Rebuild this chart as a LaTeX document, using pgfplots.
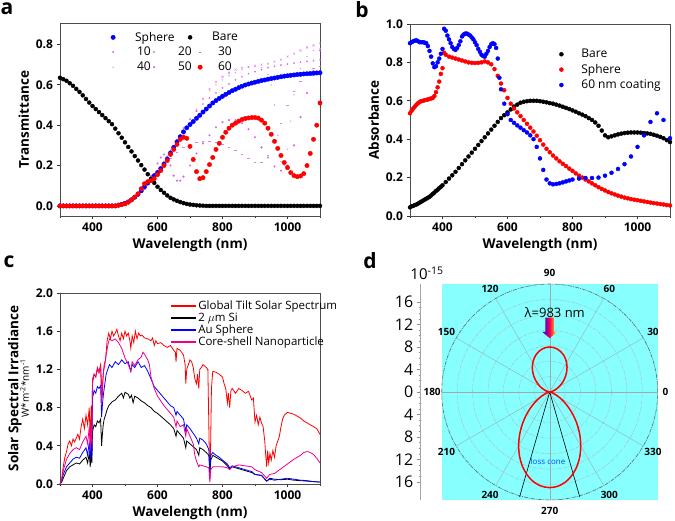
\documentclass[border=0pt]{standalone}
\usepackage{fontspec}
\setmainfont{Open Sans}
\usepackage{pgfplots}
\pgfplotsset{compat=1.18}
\definecolor{cyanbg}{RGB}{135,255,255}
\definecolor{magl}{RGB}{215,95,235}
\definecolor{gridg}{RGB}{110,140,140}
\newcommand{\fs}[1]{\fontsize{#1}{#1}\selectfont}
\pgfplotsset{
 panel/.style={
  scale only axis, width=260pt, xmin=300, xmax=1100,
  xtick={400,600,800,1000}, minor xtick={300,500,700,900,1100},
  tick align=outside, tick pos=left,
  major tick length=3.5pt, minor tick length=2pt,
  axis line style={draw=black!70, line width=0.9pt},
  every tick/.style={black!80, line width=0.7pt},
  tick label style={font=\fs{12}\bfseries},
  label style={font=\fs{13.5}\bfseries},
  xlabel={Wavelength (nm)},
  /pgf/number format/assume math mode=true,
  /pgf/number format/1000 sep={},
  xticklabel={\pgfmathprintnumber{\tick}},
  yticklabel={\pgfmathprintnumber{\tick}},
  yticklabel style={/pgf/number format/fixed,/pgf/number format/fixed zerofill,/pgf/number format/precision=1},
  scaled ticks=false,
 },
 lnleg/.style={legend image code/.code={\fill[#1] (0pt,-0.6pt) rectangle (24pt,0.6pt);}},
 mkleg/.style={legend image code/.code={\path[draw=none,fill=none] (-3pt,0pt) -- (13pt,0pt); \draw[##1] plot coordinates {(0pt,0pt)};}},
}
\begin{document}
\begin{tikzpicture}[x=1pt,y=1pt]
\useasboundingbox (0,0) rectangle (675,521);
% ---------------- panel a (legend row 1 only) ----------------
\begin{axis}[at={(60pt,305pt)}, anchor=south west, scale only axis, width=260pt, height=192.7pt,
  xmin=0, xmax=1, ymin=0, ymax=1, hide axis,
  legend columns=2,
  legend style={draw=none, fill=none, inner sep=0pt, at={(axis description cs:0.192,0.966)}, anchor=north west, font=\fs{12}},
  legend cell align=left]
\addlegendimage{only marks, mark=*, mark size=2.2pt, blue, mkleg}\addlegendentry{\makebox[57pt][l]{\hspace{7pt}Sphere}}
\addlegendimage{only marks, mark=*, mark size=2pt, black, mkleg}\addlegendentry{\hspace{7pt}Bare}
\end{axis}
% ---------------- panel a ----------------
\begin{axis}[panel, at={(60pt,305pt)}, anchor=south west, height=192.7pt,
  ymin=-0.05, ymax=0.905, ytick={0,0.2,0.4,0.6,0.8}, ylabel={Transmittance},
  legend columns=3,
  legend style={draw=none, fill=none, inner sep=0pt, at={(axis description cs:0.192,0.889)}, anchor=north west, font=\fs{12}, row sep=1pt},
  legend cell align=left]
\addlegendimage{only marks, mark=*, mark size=0.7pt, magl, mkleg}\addlegendentry{\makebox[21pt][l]{\hspace{9pt}10}}
\addlegendimage{only marks, mark=x, mark size=1.3pt, magl, mkleg}\addlegendentry{\makebox[26pt][l]{\hspace{9pt}20}}
\addlegendimage{only marks, mark=-, mark size=1.3pt, magl, mkleg}\addlegendentry{\hspace{3pt}30}
\addlegendimage{only marks, mark=*, mark size=0.5pt, magl!70, mkleg}\addlegendentry{\makebox[21pt][l]{\hspace{9pt}40}}
\addlegendimage{only marks, mark=*, mark size=0.9pt, magl, mkleg}\addlegendentry{\makebox[26pt][l]{\hspace{9pt}50}}
\addlegendimage{only marks, mark=*, mark size=2.2pt, red, mkleg}\addlegendentry{\hspace{3pt}60}
% 10
\addplot[forget plot, only marks, mark=*, mark size=0.7pt, magl, opacity=0.8] coordinates {
(300,0)(320,0)(340,0)(360,0)(380,0)(400,0)(420,0)(440,0)(460,0)
(480,0.004)(500,0.013)(520,0.03)(540,0.058)(560,0.095)(580,0.135)(600,0.175)(620,0.22)(640,0.275)(660,0.33)(680,0.385)(700,0.43)(720,0.47)(740,0.505)(760,0.535)(780,0.56)(800,0.585)(820,0.605)(840,0.625)(860,0.64)(880,0.655)(900,0.665)(920,0.675)(940,0.685)(960,0.692)(980,0.698)(1000,0.703)(1020,0.708)(1040,0.712)(1060,0.716)(1080,0.72)(1100,0.723)};
% 20
\addplot[forget plot, only marks, mark=x, mark size=1.3pt, magl, opacity=0.8] coordinates {
(480,0.004)(500,0.012)(520,0.028)(540,0.055)(560,0.09)(580,0.13)(600,0.17)(620,0.21)(640,0.255)(660,0.3)(680,0.35)(700,0.41)(720,0.47)(740,0.53)(760,0.58)(780,0.615)(800,0.64)(820,0.66)(840,0.675)(860,0.685)(880,0.69)(900,0.695)(920,0.7)(940,0.705)(960,0.715)(980,0.725)(1000,0.74)(1020,0.755)(1040,0.77)(1060,0.785)(1080,0.795)(1100,0.805)};
% 30
\addplot[forget plot, only marks, mark=-, mark size=1.3pt, magl, opacity=0.8] coordinates {
(480,0.003)(500,0.01)(520,0.025)(540,0.05)(560,0.085)(580,0.125)(600,0.165)(620,0.2)(640,0.235)(660,0.265)(680,0.29)(700,0.305)(720,0.315)(740,0.32)(760,0.32)(780,0.315)(800,0.305)(820,0.29)(840,0.275)(860,0.255)(880,0.235)(900,0.215)(920,0.215)(940,0.25)(960,0.32)(980,0.41)(1000,0.5)(1020,0.57)(1040,0.62)(1060,0.66)(1080,0.68)(1100,0.69)};
% 40
\addplot[forget plot, only marks, mark=*, mark size=0.5pt, magl!70, opacity=0.8] coordinates {
(480,0.004)(500,0.012)(520,0.03)(540,0.057)(560,0.092)(580,0.13)(600,0.17)(620,0.215)(640,0.265)(660,0.32)(680,0.375)(700,0.43)(720,0.48)(740,0.53)(760,0.57)(780,0.6)(800,0.625)(820,0.645)(840,0.66)(860,0.675)(880,0.685)(900,0.69)(920,0.685)(940,0.65)(950,0.6)(960,0.5)(970,0.35)(980,0.22)(990,0.2)(1000,0.28)(1010,0.42)(1020,0.55)(1040,0.68)(1060,0.74)(1080,0.77)(1100,0.78)};
% 50
\addplot[forget plot, only marks, mark=*, mark size=0.9pt, magl, opacity=0.85] coordinates {
(480,0.003)(500,0.01)(520,0.03)(540,0.06)(560,0.1)(580,0.15)(600,0.21)(610,0.24)(620,0.255)(630,0.245)(640,0.2)(650,0.15)(660,0.125)(670,0.125)(680,0.145)(700,0.2)(720,0.26)(740,0.31)(760,0.35)(780,0.39)(800,0.415)(820,0.425)(840,0.425)(860,0.41)(880,0.38)(900,0.34)(920,0.29)(940,0.24)(960,0.195)(980,0.175)(1000,0.2)(1020,0.3)(1040,0.44)(1060,0.56)(1080,0.67)(1100,0.77)};
% Sphere
\addplot[forget plot, only marks, mark=*, mark size=2.2pt, blue] coordinates {
(300,0)(310,0)(320,0)(330,0)(340,0)(350,0)(360,0)(370,0)(380,0)(390,0)(400,0)(410,0)(420,0)(430,0)(440,0)(450,0)(460,0)(470,0)
(480,0.004)(490,0.008)(500,0.013)(510,0.02)(520,0.03)(530,0.043)(540,0.058)(550,0.075)(560,0.095)(570,0.113)(580,0.13)(590,0.15)(600,0.165)(610,0.185)(620,0.207)(630,0.232)(640,0.262)(650,0.29)(660,0.317)(670,0.343)(680,0.367)(690,0.387)(700,0.403)(710,0.418)(720,0.434)(730,0.449)(740,0.465)(750,0.48)(760,0.495)(770,0.51)(780,0.522)(790,0.533)(800,0.543)(810,0.553)(820,0.562)(830,0.571)(840,0.578)(850,0.586)(860,0.593)(870,0.599)(880,0.604)(890,0.609)(900,0.613)(910,0.617)(920,0.621)(930,0.624)(940,0.628)(950,0.631)(960,0.634)(970,0.637)(980,0.64)(990,0.643)(1000,0.645)(1010,0.647)(1020,0.649)(1030,0.651)(1040,0.652)(1050,0.654)(1060,0.655)(1070,0.656)(1080,0.657)(1090,0.659)(1100,0.66)};
% Bare
\addplot[forget plot, only marks, mark=*, mark size=2pt, black] coordinates {
(300,0.635)(310,0.628)(320,0.62)(330,0.608)(340,0.595)(350,0.58)(360,0.565)(370,0.548)(380,0.53)(390,0.512)(400,0.495)(410,0.48)(420,0.465)(430,0.45)(440,0.435)(450,0.42)(460,0.405)(470,0.383)(480,0.36)(490,0.338)(500,0.315)(510,0.292)(520,0.27)(530,0.247)(540,0.225)(550,0.202)(560,0.18)(570,0.157)(580,0.135)(590,0.114)(600,0.095)(610,0.079)(620,0.065)(630,0.052)(640,0.04)(650,0.032)(660,0.025)(670,0.019)(680,0.014)(690,0.01)(700,0.007)(710,0.005)(720,0.003)(730,0.002)(740,0.001)(750,0)(760,0)(770,0)(780,0)(790,0)(800,0)(810,0)(820,0)(830,0)(840,0)(850,0)(860,0)(870,0)(880,0)(890,0)(900,0)(910,0)(920,0)(930,0)(940,0)(950,0)(960,0)(970,0)(980,0)(990,0)(1000,0)(1010,0)(1020,0)(1030,0)(1040,0)(1050,0)(1060,0)(1070,0)(1080,0)(1090,0)(1100,0)};
% 60
\addplot[forget plot, only marks, mark=*, mark size=2.2pt, red] coordinates {
(300,0)(310,0)(320,0)(330,0)(340,0)(350,0)(360,0)(370,0)(380,0)(390,0)(400,0)(410,0)(420,0)(430,0)(440,0)(450,0)(460,0)(470,0)
(480,0.003)(490,0.006)(500,0.01)(510,0.018)(520,0.03)(530,0.044)(540,0.06)(550,0.085)(560,0.11)(570,0.12)(580,0.125)(590,0.135)(600,0.155)(610,0.175)(620,0.2)(630,0.225)(640,0.255)(650,0.28)(660,0.305)(670,0.33)(680,0.34)(690,0.335)(700,0.295)(710,0.23)(720,0.17)(730,0.135)(740,0.14)(750,0.17)(760,0.205)(770,0.24)(780,0.28)(790,0.31)(800,0.34)(810,0.365)(820,0.385)(830,0.4)(840,0.41)(850,0.42)(860,0.428)(870,0.433)(880,0.436)(890,0.438)(900,0.438)(910,0.435)(920,0.425)(930,0.41)(940,0.385)(950,0.355)(960,0.32)(970,0.285)(980,0.25)(990,0.215)(1000,0.19)(1010,0.165)(1020,0.15)(1030,0.145)(1040,0.148)(1050,0.16)(1060,0.2)(1070,0.26)(1080,0.33)(1090,0.4)(1100,0.51)};
\end{axis}
% ---------------- panel b ----------------
\begin{axis}[panel, at={(410pt,305pt)}, anchor=south west, height=192pt,
  ymin=0, ymax=1.0, ytick={0,0.2,0.4,0.6,0.8,1.0}, ylabel={Absorbance},
  legend style={draw=none, fill=none, inner sep=0pt, at={(axis description cs:0.57,0.88)}, anchor=north west, font=\fs{12}, row sep=1pt},
  legend cell align=left]
\addplot[only marks, mark=*, mark size=2pt, black, mkleg] coordinates {
(300,0.045)(305,0.05)(310,0.053)(315,0.057)(320,0.06)(325,0.065)(330,0.07)(335,0.075)(340,0.08)(345,0.085)(350,0.09)(355,0.095)(360,0.1)(365,0.107)(370,0.115)(375,0.122)(380,0.13)(385,0.137)(390,0.145)(395,0.152)(400,0.16)(410,0.177)(420,0.195)(430,0.212)(440,0.23)(450,0.25)(460,0.27)(470,0.29)(480,0.31)(490,0.33)(500,0.35)(510,0.37)(520,0.39)(530,0.41)(540,0.43)(550,0.45)(560,0.47)(570,0.49)(580,0.51)(590,0.525)(600,0.54)(610,0.555)(620,0.57)(630,0.58)(640,0.59)(650,0.595)(660,0.598)(670,0.6)(680,0.6)(690,0.6)(700,0.598)(710,0.595)(720,0.592)(730,0.588)(740,0.585)(750,0.58)(760,0.575)(770,0.569)(780,0.563)(790,0.557)(800,0.55)(810,0.543)(820,0.535)(830,0.528)(840,0.52)(850,0.51)(860,0.5)(870,0.487)(880,0.47)(890,0.445)(900,0.42)(910,0.41)(920,0.415)(930,0.42)(940,0.425)(950,0.429)(960,0.432)(970,0.434)(980,0.435)(990,0.435)(1000,0.435)(1010,0.434)(1020,0.432)(1030,0.43)(1040,0.428)(1050,0.423)(1060,0.418)(1070,0.412)(1080,0.405)(1090,0.395)(1100,0.385)};
\addlegendentry{\hspace{5pt}Bare}
\addplot[only marks, mark=*, mark size=2pt, red, mkleg] coordinates {
(300,0.535)(305,0.548)(310,0.56)(315,0.57)(320,0.58)(325,0.588)(330,0.595)(335,0.598)(340,0.6)(345,0.603)(350,0.605)(355,0.607)(360,0.61)(365,0.612)(370,0.615)(375,0.625)(380,0.645)(385,0.67)(390,0.7)(395,0.74)(400,0.77)(405,0.85)(410,0.84)(420,0.83)(430,0.825)(440,0.82)(450,0.815)(460,0.81)(470,0.805)(480,0.8)(490,0.798)(500,0.797)(510,0.798)(520,0.8)(530,0.805)(540,0.8)(550,0.79)(560,0.765)(570,0.73)(580,0.69)(590,0.655)(600,0.615)(610,0.585)(620,0.56)(630,0.54)(640,0.52)(650,0.5)(660,0.48)(670,0.46)(680,0.44)(690,0.418)(700,0.395)(710,0.372)(720,0.35)(730,0.332)(740,0.315)(750,0.3)(760,0.285)(770,0.272)(780,0.26)(790,0.247)(800,0.235)(810,0.222)(820,0.21)(830,0.2)(840,0.19)(850,0.18)(860,0.17)(870,0.16)(880,0.15)(890,0.141)(900,0.133)(910,0.125)(920,0.118)(930,0.112)(940,0.106)(950,0.101)(960,0.096)(970,0.092)(980,0.088)(990,0.085)(1000,0.082)(1010,0.079)(1020,0.076)(1030,0.073)(1040,0.07)(1050,0.067)(1060,0.065)(1070,0.062)(1080,0.06)(1090,0.057)(1100,0.055)};
\addlegendentry{\hspace{5pt}Sphere}
\addplot[only marks, mark=*, mark size=2pt, blue, mkleg] coordinates {
(300,0.9)(305,0.905)(310,0.91)(315,0.913)(320,0.915)(325,0.91)(330,0.905)(335,0.905)(340,0.905)(345,0.903)(350,0.9)(355,0.885)(360,0.86)(365,0.83)(370,0.795)(375,0.775)(380,0.78)(385,0.8)(390,0.82)(395,0.845)(400,0.87)(405,0.975)(410,0.965)(415,0.94)(420,0.92)(425,0.9)(430,0.88)(435,0.87)(440,0.865)(445,0.875)(450,0.89)(455,0.91)(460,0.935)(465,0.945)(470,0.95)(475,0.95)(480,0.945)(485,0.94)(490,0.93)(495,0.92)(500,0.905)(505,0.89)(510,0.87)(515,0.855)(520,0.84)(525,0.833)(530,0.83)(535,0.845)(540,0.86)(545,0.88)(550,0.895)(555,0.9)(560,0.895)(565,0.875)(570,0.82)(575,0.72)(580,0.66)(590,0.585)(600,0.53)(610,0.5)(620,0.485)(630,0.472)(640,0.46)(650,0.447)(660,0.435)(670,0.42)(680,0.4)(690,0.36)(700,0.3)(710,0.24)(720,0.19)(730,0.17)(740,0.165)(750,0.167)(760,0.17)(770,0.175)(780,0.18)(790,0.185)(800,0.19)(820,0.195)(840,0.198)(860,0.198)(880,0.2)(900,0.21)(920,0.225)(940,0.245)(960,0.27)(980,0.31)(1000,0.36)(1020,0.42)(1040,0.49)(1060,0.535)(1080,0.5)(1100,0.405)};
\addlegendentry{\hspace{5pt}60 nm coating}
\end{axis}
% ---------------- panel c ----------------
\begin{axis}[panel, at={(60pt,37pt)}, anchor=south west, height=191pt,
  ymin=0, ymax=2.0, ytick={0,0.4,0.8,1.2,1.6,2.0},
  ylabel={\textbf{Solar Spectral Irradiance}\\[-3pt]{\fontsize{10}{10}\mdseries W*m\textsuperscript{-2}*nm\textsuperscript{-1}}},
  ylabel style={align=center},
  legend style={draw=none, fill=none, inner sep=0pt, at={(axis description cs:0.428,0.972)}, anchor=north west, font=\fs{11.5}, row sep=-2pt},
  legend cell align=left]
\addplot[red, line width=0.8pt, lnleg=red] coordinates {
(300,0)(305,0.05)(310,0.18)(315,0.28)(320,0.34)(325,0.42)(330,0.45)(335,0.40)(340,0.47)(345,0.44)(350,0.48)(355,0.52)(360,0.47)(365,0.60)(370,0.68)(375,0.58)(380,0.72)(385,0.62)(390,0.80)(393,0.45)(396,0.82)(398,0.55)(400,1.05)(405,1.15)(410,1.12)(415,1.22)(420,1.18)(425,1.25)(430,0.90)(433,1.15)(436,1.25)(440,1.30)(445,1.50)(450,1.58)(455,1.52)(460,1.60)(465,1.55)(470,1.58)(475,1.62)(480,1.55)(485,1.50)(490,1.58)(495,1.52)(500,1.60)(505,1.55)(510,1.58)(515,1.50)(518,1.42)(522,1.55)(527,1.48)(532,1.60)(537,1.52)(542,1.58)(547,1.55)(552,1.56)(560,1.53)(570,1.52)(580,1.50)(585,1.53)(590,1.45)(595,1.50)(600,1.47)(610,1.48)(620,1.45)(630,1.43)(640,1.45)(650,1.40)(655,1.38)(657,1.28)(660,1.42)(670,1.40)(680,1.35)(685,1.25)(687,1.05)(690,1.20)(695,1.25)(700,1.30)(705,1.28)(710,1.22)(715,1.10)(720,1.05)(723,1.15)(727,1.00)(730,1.20)(735,1.22)(740,1.25)(750,1.22)(755,1.20)(759,0.40)(761,0.05)(763,0.30)(766,1.00)(770,1.18)(780,1.17)(790,1.15)(800,1.12)(805,1.05)(810,1.00)(815,0.85)(818,0.95)(822,0.80)(826,0.98)(830,1.00)(840,0.95)(850,1.00)(860,0.98)(870,0.95)(880,0.97)(890,0.88)(895,0.90)(900,0.65)(905,0.72)(910,0.62)(915,0.70)(920,0.64)(925,0.60)(930,0.45)(933,0.30)(936,0.18)(939,0.35)(942,0.22)(946,0.32)(950,0.25)(955,0.35)(960,0.28)(965,0.40)(970,0.45)(975,0.50)(980,0.60)(985,0.68)(990,0.72)(1000,0.75)(1010,0.74)(1020,0.73)(1030,0.71)(1040,0.69)(1050,0.66)(1060,0.64)(1070,0.62)(1080,0.60)(1090,0.58)(1095,0.55)(1100,0.52)};
\addlegendentry{Global Tilt Solar Spectrum}
\addplot[black, line width=0.8pt, lnleg=black] coordinates {
(300,0)(305,0.02)(310,0.06)(320,0.14)(330,0.18)(340,0.20)(350,0.22)(360,0.21)(370,0.25)(380,0.28)(385,0.22)(390,0.32)(393,0.18)(396,0.33)(398,0.22)(400,0.55)(405,0.62)(410,0.60)(415,0.66)(420,0.64)(425,0.68)(428,0.40)(430,0.50)(433,0.62)(436,0.68)(440,0.72)(445,0.78)(450,0.82)(460,0.86)(470,0.88)(480,0.92)(490,0.95)(495,0.90)(500,0.96)(510,0.94)(515,0.90)(520,0.93)(525,0.85)(530,0.92)(540,0.90)(550,0.87)(560,0.85)(570,0.82)(580,0.80)(590,0.76)(600,0.74)(620,0.68)(640,0.62)(650,0.58)(657,0.50)(660,0.56)(680,0.48)(687,0.38)(690,0.45)(700,0.42)(720,0.36)(727,0.30)(730,0.38)(740,0.36)(750,0.33)(758,0.30)(761,0.12)(764,0.25)(770,0.30)(780,0.28)(790,0.26)(800,0.24)(815,0.19)(822,0.16)(830,0.18)(850,0.16)(870,0.14)(890,0.12)(900,0.10)(920,0.09)(936,0.03)(945,0.06)(960,0.05)(980,0.045)(1000,0.05)(1020,0.04)(1040,0.035)(1060,0.03)(1080,0.025)(1100,0.02)};
\addlegendentry{2 $\mu$m Si}
\addplot[blue, line width=0.8pt, lnleg=blue] coordinates {
(300,0)(305,0.03)(310,0.10)(320,0.18)(330,0.22)(340,0.26)(350,0.28)(360,0.27)(370,0.33)(380,0.38)(385,0.30)(390,0.44)(393,0.25)(396,0.45)(398,0.30)(400,0.90)(405,0.98)(410,0.95)(415,1.02)(420,1.00)(425,1.03)(428,0.70)(431,0.85)(434,0.95)(438,1.05)(442,1.15)(447,1.20)(452,1.25)(460,1.22)(470,1.28)(480,1.25)(490,1.30)(500,1.26)(510,1.28)(518,1.18)(522,1.25)(530,1.22)(540,1.28)(550,1.22)(560,1.24)(570,1.18)(580,1.10)(590,1.02)(600,0.98)(620,0.90)(640,0.82)(650,0.80)(657,0.72)(660,0.76)(680,0.68)(687,0.55)(690,0.62)(700,0.58)(720,0.48)(727,0.42)(730,0.48)(740,0.46)(750,0.42)(758,0.36)(761,0.12)(764,0.30)(770,0.33)(780,0.30)(790,0.28)(800,0.25)(815,0.21)(822,0.17)(830,0.19)(850,0.17)(870,0.15)(890,0.13)(900,0.10)(920,0.09)(936,0.03)(945,0.05)(960,0.04)(980,0.05)(1000,0.06)(1010,0.055)(1020,0.05)(1040,0.04)(1060,0.035)(1080,0.025)(1100,0.02)};
\addlegendentry{Au Sphere}
\addplot[magenta, line width=0.8pt, lnleg=magenta] coordinates {
(300,0)(305,0.04)(310,0.14)(320,0.26)(330,0.32)(340,0.36)(350,0.38)(360,0.36)(370,0.44)(380,0.50)(385,0.42)(390,0.60)(393,0.35)(396,0.62)(398,0.42)(400,1.10)(405,1.15)(410,1.12)(415,1.20)(420,1.16)(425,1.22)(428,0.85)(431,1.05)(434,1.18)(438,1.25)(442,1.35)(447,1.45)(452,1.52)(460,1.50)(470,1.52)(480,1.48)(490,1.42)(500,1.32)(510,1.25)(518,1.18)(522,1.28)(530,1.24)(540,1.30)(550,1.33)(555,1.38)(560,1.36)(570,1.30)(575,1.25)(580,1.12)(590,1.00)(600,0.92)(610,0.87)(620,0.82)(640,0.74)(650,0.70)(657,0.60)(660,0.66)(670,0.60)(680,0.62)(687,0.50)(690,0.58)(700,0.50)(710,0.42)(715,0.30)(720,0.24)(727,0.18)(730,0.20)(740,0.19)(750,0.18)(758,0.17)(761,0.02)(764,0.15)(770,0.18)(790,0.18)(800,0.18)(815,0.17)(822,0.15)(830,0.18)(850,0.20)(870,0.19)(890,0.18)(900,0.15)(920,0.12)(936,0.06)(945,0.10)(960,0.11)(980,0.16)(1000,0.21)(1020,0.26)(1040,0.30)(1050,0.33)(1060,0.34)(1070,0.33)(1080,0.31)(1090,0.27)(1100,0.22)};
\addlegendentry{Core-shell Nanoparticle}
\end{axis}
% ---------------- panel d: radial scale ----------------
\begin{axis}[at={(420.7pt,21pt)}, anchor=south west, scale only axis, width=1pt, height=216pt,
  xmin=0, xmax=1, ymin=-19.2, ymax=19.2, axis x line=none, axis y line=left,
  axis line style={-, black!35, line width=0.6pt},
  ytick={-16,-12,-8,-4,0,4,8,12,16}, yticklabels={16,12,8,4,0,4,8,12,16},
  minor y tick num=3, tick align=outside, major tick length=4pt, minor tick length=2pt,
  every tick/.style={black!45, line width=0.5pt},
  yticklabel style={font=\fs{16}}, /pgf/number format/assume math mode=true]
\addplot[draw=none] coordinates {(0.5,0)};
\end{axis}
% ---------------- panel d: polar ----------------
\begin{axis}[at={(441.7pt,21pt)}, anchor=south west, scale only axis, width=216pt, height=216pt,
  xmin=-19.2, xmax=19.2, ymin=-19.2, ymax=19.2, xtick=\empty, ytick=\empty,
  axis line style={draw=none}, axis background/.style={fill=cyanbg}, clip=false]
\draw[gridg!60, dash pattern=on 3pt off 1pt on 1pt off 1pt, line width=0.4pt] (axis cs:0,0) circle[radius=2.743];
\draw[gridg!60, dash pattern=on 3pt off 1pt on 1pt off 1pt, line width=0.4pt] (axis cs:0,0) circle[radius=5.486];
\draw[gridg!60, dash pattern=on 3pt off 1pt on 1pt off 1pt, line width=0.4pt] (axis cs:0,0) circle[radius=8.229];
\draw[gridg!60, dash pattern=on 3pt off 1pt on 1pt off 1pt, line width=0.4pt] (axis cs:0,0) circle[radius=10.971];
\draw[gridg!60, dash pattern=on 3pt off 1pt on 1pt off 1pt, line width=0.4pt] (axis cs:0,0) circle[radius=13.714];
\draw[gridg!60, dash pattern=on 3pt off 1pt on 1pt off 1pt, line width=0.4pt] (axis cs:0,0) circle[radius=16.457];
\draw[black!60, dash pattern=on 4pt off 1pt on 1pt off 1pt, line width=0.6pt] (axis cs:0,0) circle[radius=19.2];
\draw[gridg!70, line width=0.4pt] (axis cs:19.2,0) -- (axis cs:-19.2,0);
\draw[gridg!70, line width=0.4pt] (axis cs:16.63,9.6) -- (axis cs:-16.63,-9.6);
\draw[gridg!70, line width=0.4pt] (axis cs:9.6,16.63) -- (axis cs:-9.6,-16.63);
\draw[gridg!70, line width=0.4pt] (axis cs:0,19.2) -- (axis cs:0,-19.2);
\draw[gridg!70, line width=0.4pt] (axis cs:-9.6,16.63) -- (axis cs:9.6,-16.63);
\draw[gridg!70, line width=0.4pt] (axis cs:-16.63,9.6) -- (axis cs:16.63,-9.6);
\addplot[black, line width=0.6pt, data cs=polar] coordinates {(254,19.4) (0,0) (286,19.4)};
\addplot[red, line width=1.5pt, smooth, data cs=polar] coordinates {
(0,0)(5,0.061)(10,0.241)(15,0.536)(20,0.936)(25,1.429)(30,2.0)(35,2.632)(40,3.305)(45,4.0)(50,4.695)(55,5.368)(60,6.0)(65,6.571)(70,7.064)(75,7.464)(80,7.759)(85,7.939)(90,8.0)(95,7.939)(100,7.759)(105,7.464)(110,7.064)(115,6.571)(120,6.0)(125,5.368)(130,4.695)(135,4.0)(140,3.305)(145,2.632)(150,2.0)(155,1.429)(160,0.936)(165,0.536)(170,0.241)(175,0.061)(180,0)};
\addplot[red, line width=1.5pt, smooth, data cs=polar] coordinates {
(180,0)(185,0.011)(190,0.089)(195,0.295)(200,0.68)(205,1.28)(210,2.125)(215,3.21)(220,4.515)(225,6.01)(230,7.64)(235,9.34)(240,11.04)(245,12.66)(250,14.11)(255,15.32)(260,16.24)(265,16.81)(270,17.0)(275,16.81)(280,16.24)(285,15.32)(290,14.11)(295,12.66)(300,11.04)(305,9.34)(310,7.64)(315,6.01)(320,4.515)(325,3.21)(330,2.125)(335,1.28)(340,0.68)(345,0.295)(350,0.089)(355,0.011)(360,0)};
\shade[left color=blue, right color=yellow, middle color=red!70!magenta] (axis cs:-0.75,13.2) -- (axis cs:0.75,13.2) -- (axis cs:0.75,10.7) -- (axis cs:1.3,10.7) -- (axis cs:0,9.55) -- (axis cs:-1.3,10.7) -- (axis cs:-0.75,10.7) -- cycle;
\node[font=\fs{13}] at (axis cs:0.9,14.1) {λ=983 nm};
\node[font=\fs{8}, text=blue!70!cyan] at (axis cs:-0.3,-12.4) {loss cone};
\node[font=\fs{10}\bfseries] at (axis cs:20.6,0) {0};
\node[font=\fs{10}\bfseries] at (axis cs:18.36,10.6) {30};
\node[font=\fs{10}\bfseries] at (axis cs:10.6,18.36) {60};
\node[font=\fs{10}\bfseries] at (axis cs:0,21.2) {90};
\node[font=\fs{10}\bfseries] at (axis cs:-10.6,18.36) {120};
\node[font=\fs{10}\bfseries] at (axis cs:-18.36,10.6) {150};
\node[font=\fs{10}\bfseries] at (axis cs:-20.9,0) {180};
\node[font=\fs{10}\bfseries] at (axis cs:-18.36,-10.6) {210};
\node[font=\fs{10}\bfseries] at (axis cs:-10.6,-18.36) {240};
\node[font=\fs{10}\bfseries] at (axis cs:0,-21.2) {270};
\node[font=\fs{10}\bfseries] at (axis cs:10.6,-18.36) {300};
\node[font=\fs{10}\bfseries] at (axis cs:18.36,-10.6) {330};
\end{axis}
\node[font=\fs{15}] at (427,248) {10\textsuperscript{-15}};
% panel letters
\node[font=\fs{21}\bfseries] at (7,512) {a};
\node[font=\fs{21}\bfseries] at (362,511) {b};
\node[font=\fs{21}\bfseries] at (9,259) {c};
\node[font=\fs{21}\bfseries] at (370,260) {d};
\end{tikzpicture}
\end{document}
